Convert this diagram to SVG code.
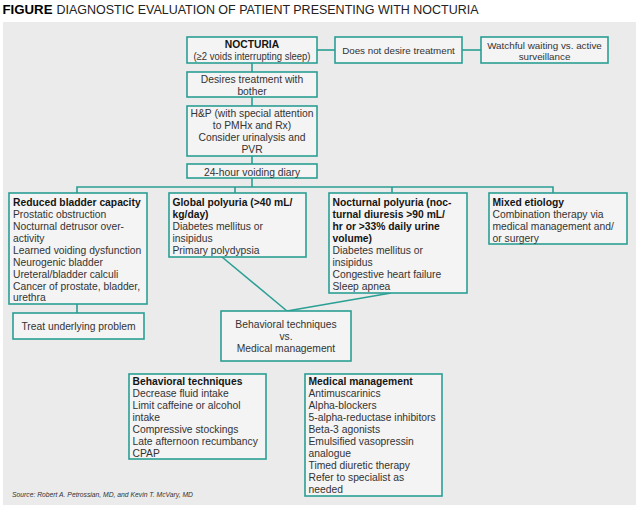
<svg xmlns="http://www.w3.org/2000/svg" width="640" height="509" viewBox="0 0 640 509">
<style>
.box{fill:#f4f4f4;stroke:#2a9f94;stroke-width:1.6}
.ln{stroke:#2a9f94;stroke-width:1.6;fill:none}
text{font-family:"Liberation Sans",Arial,sans-serif;font-size:10.3px;fill:#333}
.b{font-weight:bold;fill:#151515}
.c{text-anchor:middle}
.sm{font-size:9.8px}
</style>
<rect x="0" y="0" width="640" height="509" fill="#ffffff"/>
<rect x="3" y="22" width="633" height="483" fill="#ebebeb"/>
<text x="2.5" y="14" style="font-size:12px;fill:#000" class="b" textLength="50" lengthAdjust="spacingAndGlyphs">FIGURE</text>
<text x="56.5" y="14" style="font-size:12px;fill:#222" textLength="422" lengthAdjust="spacingAndGlyphs">DIAGNOSTIC EVALUATION OF PATIENT PRESENTING WITH NOCTURIA</text>

<g id="connectors">
<line class="ln" x1="317" y1="50" x2="335" y2="50"/>
<line class="ln" x1="462" y1="50" x2="481" y2="50"/>
<line class="ln" x1="252" y1="63" x2="252" y2="72"/>
<line class="ln" x1="252" y1="97" x2="252" y2="106"/>
<line class="ln" x1="252" y1="156" x2="252" y2="164"/>
<line class="ln" x1="252" y1="178" x2="252" y2="187"/>
<polyline class="ln" points="77,193 77,187 553,187 553,193"/>
<line class="ln" x1="235" y1="187" x2="235" y2="193"/>
<line class="ln" x1="392" y1="187" x2="392" y2="193"/>
<line class="ln" x1="77" y1="304" x2="77" y2="313"/>
<line class="ln" x1="222" y1="257" x2="287" y2="311"/>
<line class="ln" x1="391" y1="293" x2="287" y2="311"/>
</g>

<g id="nocturia">
<rect class="box" x="187" y="37" width="130" height="26"/>
<text class="b c" x="252" y="47.5">NOCTURIA</text>
<text class="c" x="252" y="60" textLength="117" lengthAdjust="spacingAndGlyphs">(≥2 voids interrupting sleep)</text>
</g>
<g id="no-treatment">
<rect class="box" x="335" y="37" width="127" height="26"/>
<text class="c sm" x="398.5" y="53.5">Does not desire treatment</text>
</g>
<g id="watchful">
<rect class="box" x="481" y="37" width="127" height="26"/>
<text class="c sm" x="544.5" y="48.5">Watchful waiting vs. active</text>
<text class="c sm" x="544.5" y="60">surveillance</text>
</g>
<g id="desires">
<rect class="box" x="187" y="72" width="130" height="25"/>
<text class="c" x="252" y="83">Desires treatment with</text>
<text class="c" x="252" y="94.5">bother</text>
</g>
<g id="hp">
<rect class="box" x="187" y="106" width="130" height="50"/>
<text class="c" x="252" y="116.5">H&amp;P (with special attention</text>
<text class="c" x="252" y="128.7">to PMHx and Rx)</text>
<text class="c" x="252" y="140.9">Consider urinalysis and</text>
<text class="c" x="252" y="153">PVR</text>
</g>
<g id="diary">
<rect class="box" x="187" y="164" width="130" height="14"/>
<text class="c" x="252" y="175.5">24-hour voiding diary</text>
</g>
<g id="reduced">
<rect class="box" x="9" y="193" width="138" height="111"/>
<text class="b" x="13" y="205.5">Reduced bladder capacity</text>
<text x="13" y="217.5">Prostatic obstruction</text>
<text x="13" y="229.5">Nocturnal detrusor over-</text>
<text x="13" y="241.5">activity</text>
<text x="13" y="253.5">Learned voiding dysfunction</text>
<text x="13" y="265.5">Neurogenic bladder</text>
<text x="13" y="277.5">Ureteral/bladder calculi</text>
<text x="13" y="289.5">Cancer of prostate, bladder,</text>
<text x="13" y="301.3">urethra</text>
</g>
<g id="global">
<rect class="box" x="169" y="193" width="137" height="64"/>
<text class="b" x="172.5" y="205.5">Global polyuria (&gt;40 mL/</text>
<text class="b" x="172.5" y="217.5">kg/day)</text>
<text x="172.5" y="229.5">Diabetes mellitus or</text>
<text x="172.5" y="241.5">insipidus</text>
<text x="172.5" y="253.5">Primary polydypsia</text>
</g>
<g id="nocturnal">
<rect class="box" x="329" y="193" width="138" height="100"/>
<text class="b" x="332.5" y="205.5">Nocturnal polyuria (noc-</text>
<text class="b" x="332.5" y="217.5">turnal diuresis &gt;90 mL/</text>
<text class="b" x="332.5" y="229.5">hr or &gt;33% daily urine</text>
<text class="b" x="332.5" y="241.5">volume)</text>
<text x="332.5" y="253.5">Diabetes mellitus or</text>
<text x="332.5" y="265.5">insipidus</text>
<text x="332.5" y="277.5">Congestive heart failure</text>
<text x="332.5" y="289.5">Sleep apnea</text>
</g>
<g id="mixed">
<rect class="box" x="489" y="193" width="138" height="51"/>
<text class="b" x="492.5" y="205.5">Mixed etiology</text>
<text x="492.5" y="217.5">Combination therapy via</text>
<text x="492.5" y="229.5">medical management and/</text>
<text x="492.5" y="241.5">or surgery</text>
</g>
<g id="treat">
<rect class="box" x="13" y="313" width="131" height="26"/>
<text class="c" x="78.5" y="329.5">Treat underlying problem</text>
</g>
<g id="behav-vs-med">
<rect class="box" x="221" y="311" width="130" height="50"/>
<text class="c" x="286" y="328">Behavioral techniques</text>
<text class="c" x="286" y="340">vs.</text>
<text class="c" x="286" y="352">Medical management</text>
</g>
<g id="behavioral">
<rect class="box" x="129" y="374" width="137" height="85"/>
<text class="b" x="132.5" y="385">Behavioral techniques</text>
<text x="132.5" y="397">Decrease fluid intake</text>
<text x="132.5" y="409">Limit caffeine or alcohol</text>
<text x="132.5" y="421">intake</text>
<text x="132.5" y="433">Compressive stockings</text>
<text x="132.5" y="445">Late afternoon recumbancy</text>
<text x="132.5" y="457">CPAP</text>
</g>
<g id="medical">
<rect class="box" x="305" y="374" width="137" height="122"/>
<text class="b" x="308.5" y="385">Medical management</text>
<text x="308.5" y="397">Antimuscarinics</text>
<text x="308.5" y="409">Alpha-blockers</text>
<text x="308.5" y="421">5-alpha-reductase inhibitors</text>
<text x="308.5" y="433">Beta-3 agonists</text>
<text x="308.5" y="445">Emulsified vasopressin</text>
<text x="308.5" y="457">analogue</text>
<text x="308.5" y="469">Timed diuretic therapy</text>
<text x="308.5" y="481">Refer to specialist as</text>
<text x="308.5" y="493">needed</text>
</g>
<text x="12" y="496.5" style="font-size:7.8px;font-style:italic" textLength="181" lengthAdjust="spacingAndGlyphs">Source: Robert A. Petrossian, MD, and Kevin T. McVary, MD</text>
</svg>
